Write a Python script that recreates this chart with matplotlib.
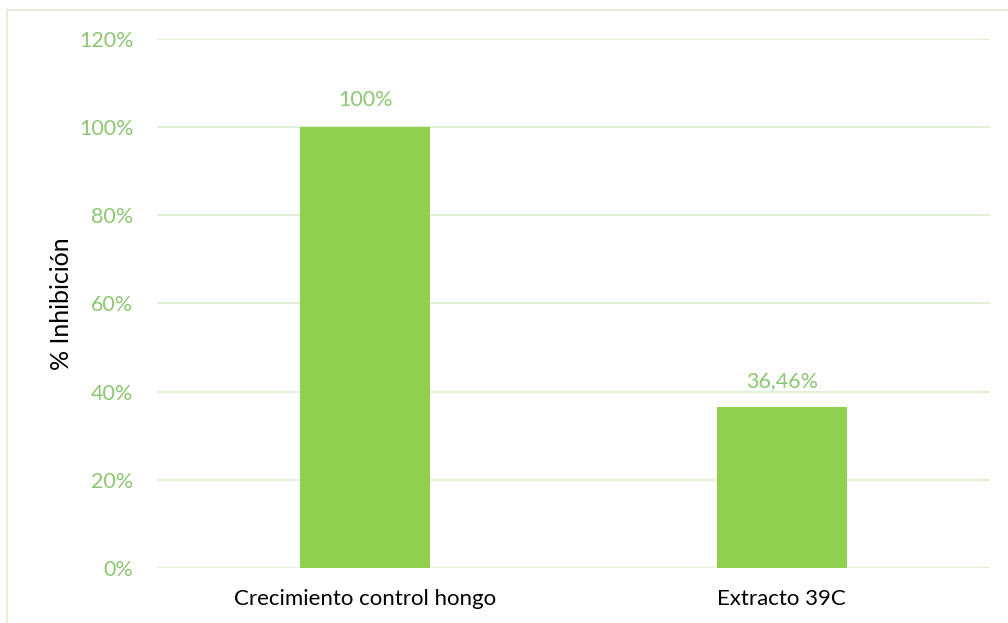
import matplotlib.pyplot as plt
from matplotlib.patches import Rectangle
from matplotlib.ticker import FuncFormatter

# Datos del ensayo de inhibición
categorias = ['Crecimiento control hongo', 'Extracto 39C']
inhibicion = [100, 36.46]
etiquetas = ['100%', '36,46%']

verde = '#92D050'
verde_texto = '#8DC774'
verde_rejilla = '#E2F0D9'

plt.rcParams['font.family'] = ['Lato', 'DejaVu Sans']

fig = plt.figure(figsize=(10.08, 6.23), dpi=100)
ax = fig.add_axes([0.1558, 0.0883, 0.8264, 0.8491])

# Marco exterior del gráfico
fig.patches.append(Rectangle((0.007, -0.05), 1.1, 0.034 + 1.0, transform=fig.transFigure,
                             fill=False, edgecolor=verde_rejilla, linewidth=1.5))

x = range(len(categorias))
ax.bar(x, inhibicion, width=0.312, color=verde, zorder=3)

for xi, v, t in zip(x, inhibicion, etiquetas):
    ax.annotate(t, (xi, v), xytext=(0, 12), textcoords='offset points',
                ha='center', va='bottom', fontsize=15.5, color=verde_texto)

ax.set_xlim(-0.5, 1.5)
ax.set_ylim(0, 120)
ax.set_yticks(range(0, 121, 20))
ax.yaxis.set_major_formatter(FuncFormatter(lambda v, p: f'{v:.0f}%'))
ax.set_xticks(list(x))
ax.set_xticklabels(categorias, fontsize=16)
ax.tick_params(axis='y', labelsize=15.5, labelcolor=verde_texto, length=0, pad=17)
ax.tick_params(axis='x', length=0, pad=15)
ax.grid(axis='y', color=verde_rejilla, linewidth=1.5, zorder=0)
for s in ax.spines.values():
    s.set_visible(False)

ax.set_ylabel('% Inhibición', fontsize=18, labelpad=4)

fig.savefig('out.png', dpi=100)
